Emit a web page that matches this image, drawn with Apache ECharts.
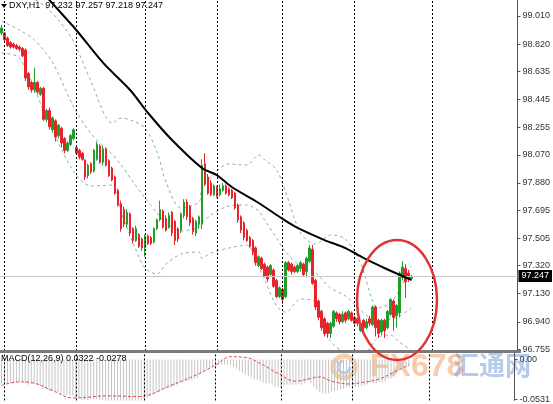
<!DOCTYPE html>
<html><head><meta charset="utf-8">
<script src="https://cdn.jsdelivr.net/npm/echarts@6/dist/echarts.min.js"></script>
<style>html,body{margin:0;padding:0;background:#fff;overflow:hidden}#c{width:553px;height:404px}</style>
</head><body><div id="c"></div>
<script>
// ---- data ----
const titleText = 'DXY,H1  97.232 97.257 97.218 97.247';
const macdTitle = 'MACD(12,26,9) 0.0322 -0.0278';
const priceTicks = [99.010, 98.820, 98.635, 98.445, 98.255, 98.070, 97.880, 97.695, 97.505, 97.320, 97.130, 96.940, 96.755];
const lastPrice = 97.247;
const macdTickValues = [0.006, 0, -0.0572];
const macdTickLabels = ['0.045', '0.00', '-0.0531'];
const daySepIdx = [1, 25, 48, 72, 94, 118, 144];

const opens = [98.895,98.895,98.86,98.83,98.82,98.81,98.80,98.79,98.78,98.62,98.56,98.51,98.56,98.48,98.52,98.31,98.37,98.24,98.30,98.20,98.25,98.18,98.10,98.14,98.18,98.12,98.10,98.08,98.035,97.93,98.01,97.96,98.04,98.13,98.02,98.11,98.03,97.98,97.92,97.83,97.74,97.70,97.60,97.67,97.57,97.49,97.53,97.50,97.44,97.52,97.51,97.48,97.57,97.63,97.69,97.64,97.58,97.68,97.62,97.57,97.56,97.66,97.75,97.72,97.64,97.54,97.60,97.60,98.01,97.92,97.88,97.80,97.85,97.80,97.83,97.86,97.84,97.83,97.81,97.73,97.65,97.61,97.56,97.51,97.49,97.44,97.32,97.37,97.33,97.31,97.26,97.29,97.22,97.11,97.16,97.11,97.34,97.33,97.31,97.28,97.30,97.33,97.28,97.35,97.43,97.22,97.08,97.01,96.96,96.93,96.86,96.91,97.00,96.99,96.94,97.00,96.96,97.00,96.97,96.96,96.88,96.95,96.90,96.96,96.92,97.04,96.95,96.87,96.95,96.90,96.99,97.08,96.98,97.00,97.24,97.30,97.27,97.232];
const closes = [98.929,98.848,98.81,98.80,98.80,98.79,98.785,98.74,98.59,98.53,98.51,98.56,98.495,98.52,98.31,98.37,98.26,98.32,98.19,98.27,98.15,98.10,98.15,98.20,98.24,98.08,98.055,98.04,97.92,98.00,97.955,98.10,98.14,98.02,98.11,98.00,97.93,97.90,97.81,97.73,97.57,97.60,97.68,97.54,97.49,97.57,97.45,97.44,97.52,97.47,97.47,97.57,97.63,97.70,97.58,97.56,97.66,97.54,97.49,97.50,97.67,97.75,97.65,97.61,97.55,97.62,97.65,98.00,97.87,97.81,97.80,97.86,97.79,97.84,97.86,97.81,97.80,97.78,97.71,97.63,97.56,97.51,97.49,97.45,97.41,97.34,97.38,97.30,97.25,97.23,97.32,97.18,97.11,97.17,97.09,97.34,97.29,97.28,97.28,97.32,97.34,97.26,97.37,97.44,97.20,97.04,96.97,96.90,96.86,96.86,96.93,97.01,96.96,96.94,96.99,96.95,97.01,96.95,96.93,96.93,96.93,96.90,96.94,96.93,97.04,96.90,96.86,96.95,96.88,97.01,97.09,96.97,97.05,97.27,97.31,97.21,97.23,97.247];
const lows = [98.88,98.83,98.80,98.79,98.79,98.78,98.77,98.73,98.57,98.51,98.49,98.49,98.48,98.47,98.30,98.29,98.24,98.22,98.16,98.18,98.12,98.08,98.09,98.13,98.17,98.07,98.04,98.03,97.90,97.91,97.94,97.95,98.03,98.01,98.00,97.99,97.92,97.89,97.80,97.72,97.55,97.58,97.58,97.52,97.47,97.48,97.44,97.42,97.38,97.46,97.46,97.47,97.56,97.62,97.57,97.55,97.57,97.52,97.46,97.48,97.54,97.64,97.63,97.59,97.53,97.52,97.57,97.57,97.86,97.80,97.79,97.79,97.78,97.79,97.82,97.80,97.79,97.77,97.70,97.61,97.54,97.49,97.48,97.44,97.39,97.32,97.31,97.29,97.24,97.21,97.25,97.17,97.10,97.10,97.06,97.10,97.28,97.26,97.27,97.27,97.28,97.25,97.24,97.34,97.19,97.02,96.95,96.88,96.84,96.83,96.83,96.90,96.94,96.92,96.93,96.93,96.95,96.94,96.92,96.91,96.87,96.88,96.89,96.91,96.91,96.84,96.83,96.85,96.83,96.89,96.98,96.88,96.90,96.97,97.22,97.10,97.21,97.218];
const highs = [98.95,98.90,98.87,98.84,98.83,98.82,98.81,98.80,98.79,98.63,98.57,98.66,98.57,98.53,98.53,98.38,98.39,98.33,98.31,98.28,98.26,98.19,98.16,98.21,98.25,98.13,98.11,98.09,98.04,98.01,98.02,98.11,98.16,98.14,98.13,98.12,98.04,97.99,97.93,97.84,97.76,97.72,97.70,97.68,97.58,97.59,97.54,97.51,97.53,97.53,97.52,97.58,97.64,97.76,97.70,97.66,97.68,97.69,97.63,97.58,97.68,97.77,97.77,97.73,97.65,97.63,97.66,98.04,98.08,97.94,97.90,97.87,97.86,97.87,97.88,97.87,97.85,97.84,97.82,97.74,97.66,97.62,97.57,97.52,97.50,97.45,97.39,97.38,97.34,97.32,97.33,97.30,97.23,97.18,97.17,97.35,97.35,97.34,97.32,97.33,97.35,97.34,97.38,97.46,97.46,97.23,97.09,97.02,96.97,96.94,96.94,97.02,97.01,97.00,97.01,97.01,97.02,97.01,96.98,96.97,96.94,96.96,96.96,96.98,97.05,97.05,96.96,96.96,96.96,97.02,97.10,97.09,97.06,97.28,97.35,97.33,97.29,97.257];

// moving average (black) as [bar index, price]
const maLine = [[14,99.16],[16,99.118],[22,98.983],[25,98.915],[34,98.692],[43,98.509],[49,98.353],[57,98.170],[67,97.981],[72,97.933],[77,97.852],[86,97.744],[93,97.649],[99,97.575],[108,97.493],[115,97.439],[121,97.372],[128,97.304],[137,97.223]];
// Bollinger bands (green dashed) as [bar index, price]
const bandUpper = [[0,99.193],[8,99.152],[14,99.084],[19,98.983],[24,98.840],[30,98.563],[37,98.285],[40,98.319],[44,98.299],[48,98.251],[52,98.089],[55,97.886],[60,97.710],[66,97.750],[67,97.845],[70,97.920],[76,98.008],[82,98.001],[86,98.069],[88,98.035],[92,97.967],[95,97.818],[100,97.540],[105,97.466],[110,97.527],[115,97.500],[120,97.337],[126,97.033],[130,97.066],[133,97.154],[137,97.317]];
const bandMiddle = [[0,98.976],[6,98.915],[11,98.847],[17,98.698],[24,98.400],[30,98.211],[37,98.075],[40,98.001],[44,97.886],[48,97.777],[52,97.676],[55,97.608],[60,97.554],[66,97.581],[67,97.608],[70,97.662],[76,97.723],[82,97.730],[86,97.689],[88,97.628],[92,97.506],[95,97.412],[100,97.317],[105,97.270],[110,97.168],[115,97.114],[120,97.019],[126,96.938],[130,96.958],[133,96.978],[137,97.033]];
const bandLower = [[0,98.759],[6,98.725],[15,98.326],[24,97.960],[30,97.859],[37,97.865],[40,97.683],[44,97.473],[48,97.303],[52,97.263],[55,97.330],[60,97.398],[66,97.412],[67,97.371],[70,97.405],[76,97.439],[82,97.459],[86,97.310],[88,97.222],[92,97.046],[95,97.005],[100,97.094],[105,97.073],[110,96.809],[115,96.728],[120,96.701],[126,96.836],[130,96.850],[133,96.802],[137,96.748]];

const macdHist = [-0.035,-0.035,-0.034,-0.034,-0.033,-0.033,-0.032,
 -0.032,-0.034,-0.036,-0.035,-0.035,-0.036,-0.038,-0.042,
 -0.043,-0.045,-0.045,-0.047,-0.047,-0.049,-0.051,-0.051,
 -0.052,-0.052,-0.054,-0.055,-0.058,-0.058,-0.058,-0.056,-0.057,-0.057,-0.058,-0.058,-0.060,-0.061,-0.063,-0.066,-0.068,-0.068,-0.068,-0.068,-0.067,-0.066,-0.064,-0.062,
 -0.060,-0.058,-0.055,-0.053,-0.050,-0.048,-0.046,-0.044,-0.043,-0.042,
 -0.040,-0.038,-0.036,-0.034,-0.032,-0.031,-0.030,-0.030,-0.028,-0.026,
 -0.020,-0.016,-0.014,-0.012,-0.010,
 -0.009,-0.008,-0.007,-0.007,-0.007,-0.008,-0.010,-0.013,
 -0.016,-0.019,-0.021,-0.023,-0.025,-0.028,-0.029,-0.031,-0.033,-0.034,
 -0.034,-0.036,-0.039,-0.039,-0.041,-0.037,-0.036,-0.036,-0.036,-0.036,
 -0.035,-0.036,-0.034,-0.031,-0.034,-0.039,-0.043,-0.046,-0.048,-0.049,
 -0.048,-0.046,-0.045,-0.044,-0.043,-0.042,-0.040,-0.040,-0.040,-0.039,
 -0.039,-0.038,-0.037,-0.036,-0.034,-0.034,-0.034,-0.033,-0.033,-0.031,-0.028,-0.027,-0.025,
 -0.018,-0.013,-0.012,-0.011,-0.010];
const macdSignal = [[0,-0.037],[6,-0.032],[10,-0.033],[17,-0.044],[24,-0.055],[36,-0.052],[46,-0.053],[57,-0.037],[66,-0.021],[72,-0.008],[77,0.004],[82,0.003],[88,-0.008],[93,-0.020],[99,-0.031],[104,-0.027],[107,-0.025],[111,-0.031],[117,-0.035],[121,-0.033],[127,-0.028],[131,-0.020],[137,-0.008]];

// ---- build ----
const nSlots = 173;
const slots = Array.from({length: nSlots}, (_, i) => String(i));
const candles = opens.map((o, i) => [o, closes[i], lows[i], highs[i]]);
const UP = '#1f9e2a', DOWN = '#e8232b';
const FONT = 'Liberation Sans';
const BAND = '#7fb89f';

const chart = echarts.init(document.getElementById('c'), null, {renderer: 'canvas'});
const sepLine = {
  symbol: ['none', 'none'], silent: true, animation: false,
  label: {show: false},
  lineStyle: {color: '#000', type: [2, 2], width: 1},
  data: daySepIdx.map(v => ({xAxis: v}))
};
const bandSeries = (d, extra) => Object.assign({
  type: 'line', xAxisIndex: 0, yAxisIndex: 0, data: d, smooth: 0.3, symbol: 'none',
  lineStyle: {color: BAND, width: 1, type: [3, 3]}, z: 2
}, extra || {});
chart.setOption({
  animation: false,
  backgroundColor: '#fff',
  grid: [
    {left: 0, top: 0, width: 521, height: 351},
    {left: 0, top: 353, width: 521, height: 51}
  ],
  xAxis: [0, 1].map(g => ({
    type: 'category', gridIndex: g, data: slots, boundaryGap: true,
    axisLine: {show: false}, axisTick: {show: false}, axisLabel: {show: false}, splitLine: {show: false}
  })),
  yAxis: [
    {type: 'value', gridIndex: 0, position: 'right', min: 96.742, max: 99.118,
     axisLine: {show: true, lineStyle: {color: '#555', width: 1}},
     axisTick: {show: true, length: 3, customValues: priceTicks, lineStyle: {color: '#555'}},
     axisLabel: {customValues: priceTicks, formatter: v => v.toFixed(3), fontSize: 9, fontFamily: FONT, color: '#333', margin: 5},
     splitLine: {show: false}},
    {type: 'value', gridIndex: 1, position: 'right', min: -0.0585, max: 0.0093,
     axisLine: {show: true, lineStyle: {color: '#555', width: 1}},
     axisTick: {show: true, length: 3, customValues: macdTickValues, lineStyle: {color: '#555'}},
     axisLabel: {customValues: macdTickValues, formatter: v => macdTickLabels[macdTickValues.indexOf(v)] || '', fontSize: 9, fontFamily: FONT, color: '#333', margin: 5},
     splitLine: {show: false}}
  ],
  series: [
    bandSeries(bandUpper, {markLine: sepLine}),
    bandSeries(bandMiddle),
    bandSeries(bandLower),
    {type: 'candlestick', xAxisIndex: 0, yAxisIndex: 0, data: candles, barWidth: 2,
     itemStyle: {color: UP, color0: DOWN, borderColor: UP, borderColor0: DOWN, borderWidth: 1}, z: 4,
     markLine: {symbol: ['none', 'none'], silent: true, animation: false,
       lineStyle: {color: '#c8c8c8', type: 'solid', width: 1},
       label: {show: true, position: 'end', distance: 1, formatter: () => lastPrice.toFixed(3),
               backgroundColor: '#000', color: '#fff', fontSize: 9, fontFamily: FONT, padding: [2, 3, 1, 3]},
       data: [{yAxis: lastPrice}]}},
    {type: 'line', name: 'ma', xAxisIndex: 0, yAxisIndex: 0, data: maLine, smooth: 0.3, symbol: 'none',
     lineStyle: {color: '#000', width: 2}, z: 5},
    {type: 'bar', xAxisIndex: 1, yAxisIndex: 1, data: macdHist, barWidth: 1,
     itemStyle: {color: '#c4c4c4'}, z: 2, markLine: sepLine},
    {type: 'line', xAxisIndex: 1, yAxisIndex: 1, data: macdSignal, smooth: 0.4, symbol: 'none',
     lineStyle: {color: '#e04a4a', width: 1, type: [3, 2]}, z: 3}
  ],
  graphic: [
    {type: 'rect', shape: {x: 0, y: 350, width: 521, height: 3}, style: {fill: '#7a7a7a'}, z: 10},
    {type: 'polygon', shape: {points: [[1, 4], [7, 4], [4, 8]]}, style: {fill: '#000'}, z: 10},
    {type: 'text', x: 9, y: 1, style: {text: titleText, fontSize: 9, fontFamily: FONT, fill: '#000'}, z: 10},
    {type: 'text', x: 1, y: 354, style: {text: macdTitle, fontSize: 9, fontFamily: FONT, fill: '#000'}, z: 10},
    {type: 'ellipse', shape: {cx: 397, cy: 300, rx: 40, ry: 60}, style: {fill: 'none', stroke: '#e03434', lineWidth: 2.5}, z: 20},
    {type: 'group', z: 15, children: [
      {type: 'circle', shape: {cx: 344, cy: 367, r: 11}, style: {fill: 'none', stroke: 'rgba(240,160,90,0.5)', lineWidth: 5}},
      {type: 'arc', shape: {cx: 344, cy: 367, r: 6, startAngle: 0, endAngle: 4.5}, style: {fill: 'none', stroke: 'rgba(120,160,220,0.5)', lineWidth: 3}},
      {type: 'text', x: 370, y: 351, style: {text: 'FX678', fontSize: 32, fontWeight: 'bold', fontFamily: 'Liberation Sans Narrow, Liberation Sans', fill: 'rgba(244,160,100,0.55)'}},
      {type: 'text', x: 453, y: 352, style: {text: '汇通网', fontSize: 26, fontWeight: 'bold', fontFamily: 'Noto Sans CJK SC', fill: 'rgba(110,150,215,0.5)'}}
    ]}
  ]
});
</script></body></html>
